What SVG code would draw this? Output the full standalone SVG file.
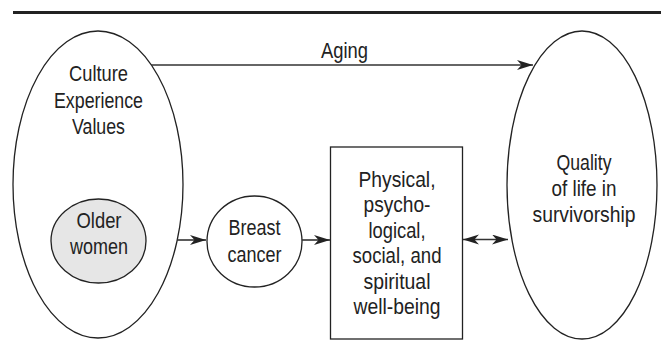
<svg xmlns="http://www.w3.org/2000/svg" width="661" height="349" viewBox="0 0 661 349">
<style>
text{font-family:"Liberation Sans",Arial,sans-serif;font-size:22px;fill:#222;text-anchor:middle}
.sh{fill:none;stroke:#222;stroke-width:1.3}
.ln{fill:none;stroke:#333;stroke-width:1.6}
</style>
<defs>
<marker id="ah" markerUnits="userSpaceOnUse" markerWidth="17" markerHeight="11" refX="16" refY="5" orient="auto-start-reverse">
<path d="M0,0 L16,5 L0,10 L4.5,5 Z" fill="#222"/>
</marker>
</defs>
<rect x="13" y="11" width="648" height="3" fill="#222"/>
<g id="context">
<ellipse class="sh" cx="98" cy="184.5" rx="85" ry="153.5"/>
<text x="98.5" y="81" textLength="59" lengthAdjust="spacingAndGlyphs">Culture</text>
<text x="98.5" y="108" textLength="89" lengthAdjust="spacingAndGlyphs">Experience</text>
<text x="98.5" y="134" textLength="53" lengthAdjust="spacingAndGlyphs">Values</text>
</g>
<g id="older-women">
<ellipse cx="98.5" cy="241" rx="47.5" ry="42" fill="#e6e6e6" stroke="#222" stroke-width="1.3"/>
<text x="99" y="228" textLength="45" lengthAdjust="spacingAndGlyphs">Older</text>
<text x="99" y="254" textLength="58" lengthAdjust="spacingAndGlyphs">women</text>
</g>
<g id="breast-cancer">
<ellipse class="sh" cx="254.5" cy="241.5" rx="47.5" ry="45.5"/>
<text x="254.5" y="235" textLength="52" lengthAdjust="spacingAndGlyphs">Breast</text>
<text x="254.5" y="262" textLength="54" lengthAdjust="spacingAndGlyphs">cancer</text>
</g>
<g id="well-being">
<rect class="sh" x="330.5" y="147" width="132" height="192"/>
<text x="397" y="187" textLength="77" lengthAdjust="spacingAndGlyphs">Physical,</text>
<text x="397" y="212" textLength="67" lengthAdjust="spacingAndGlyphs">psycho-</text>
<text x="397" y="237.5" textLength="57" lengthAdjust="spacingAndGlyphs">logical,</text>
<text x="397" y="263" textLength="89" lengthAdjust="spacingAndGlyphs">social, and</text>
<text x="397" y="288.5" textLength="67" lengthAdjust="spacingAndGlyphs">spiritual</text>
<text x="397" y="314" textLength="87" lengthAdjust="spacingAndGlyphs">well-being</text>
</g>
<g id="quality">
<ellipse class="sh" cx="582" cy="185" rx="75" ry="154"/>
<text x="584" y="170" textLength="55" lengthAdjust="spacingAndGlyphs">Quality</text>
<text x="584" y="196" textLength="65" lengthAdjust="spacingAndGlyphs">of life in</text>
<text x="584" y="222" textLength="103" lengthAdjust="spacingAndGlyphs">survivorship</text>
</g>
<g id="connectors">
<line class="ln" x1="151" y1="65" x2="533" y2="65" marker-end="url(#ah)"/>
<text x="344.5" y="58" textLength="47" lengthAdjust="spacingAndGlyphs">Aging</text>
<line class="ln" x1="177" y1="240" x2="206" y2="240" marker-end="url(#ah)"/>
<line class="ln" x1="302" y1="240" x2="330" y2="240" marker-end="url(#ah)"/>
<line class="ln" x1="463" y1="239.5" x2="508" y2="239.5" marker-start="url(#ah)" marker-end="url(#ah)"/>
</g>
</svg>
